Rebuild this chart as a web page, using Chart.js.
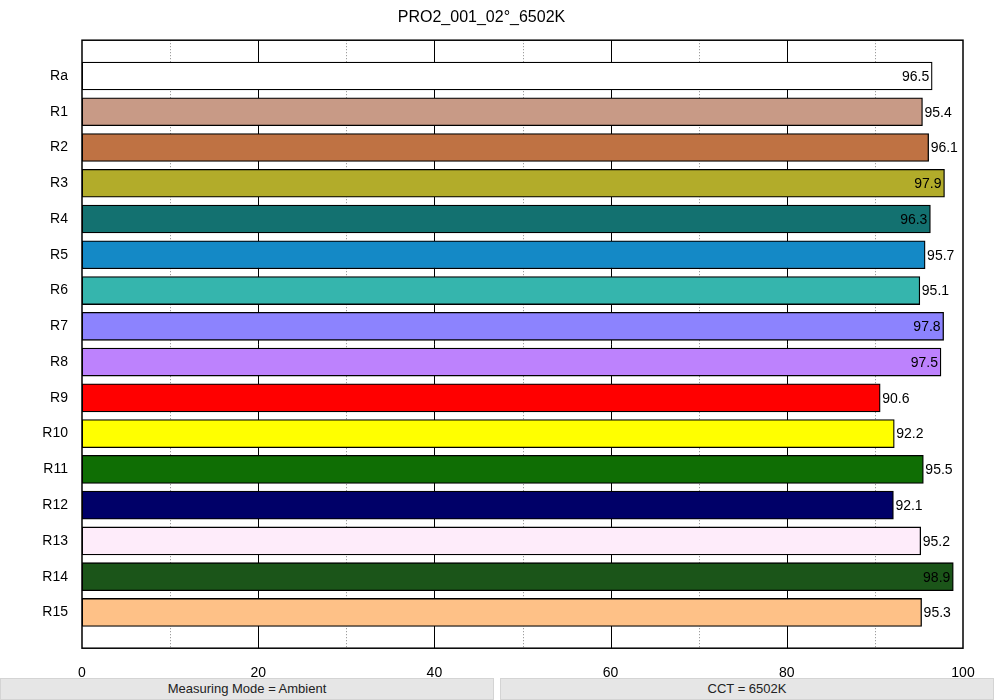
<!DOCTYPE html>
<html>
<head>
<meta charset="UTF-8">
<title>PRO2_001_02°_6502K</title>
<script src="https://cdn.jsdelivr.net/npm/chart.js"></script>
<style>
  body { margin: 0; background: #fff; font-family: "Liberation Sans", sans-serif; }
  #wrap { position: relative; width: 994px; height: 700px; overflow: hidden; }
  canvas { position: absolute; left: 0; top: 0; }
  .foot { position: absolute; top: 678px; height: 20px; background: #e6e6e6; border: 1px solid #d4d4d4;
          font-size: 13px; line-height: 20px; text-align: center; color: #222; }
</style>
</head>
<body>
<div id="wrap">
  <canvas id="myChart" width="994" height="691"></canvas>
  <div class="foot" style="left:0;width:492px">Measuring Mode = Ambient</div>
  <div class="foot" style="left:500px;width:492px">CCT = 6502K</div>
</div>
<script>
// dados do gráfico
const categorias = ['Ra','R1','R2','R3','R4','R5','R6','R7','R8','R9','R10','R11','R12','R13','R14','R15'];
const valores = [96.5, 95.4, 96.1, 97.9, 96.3, 95.7, 95.1, 97.8, 97.5, 90.6, 92.2, 95.5, 92.1, 95.2, 98.9, 95.3];
const cores = ['#ffffff','#c89a86','#bf7243','#b2ac2a','#137170','#1489c6','#35b5ad','#8c83fe',
               '#bd82fd','#ff0000','#ffff00','#0f6e04','#000068','#feecfa','#1b5519','#fec187'];
const ticksX = [0, 20, 40, 60, 80, 100];

// linhas vazias em cima e embaixo para dar o espaço do original
const labels = [''].concat(categorias, ['']);
const dados = [null].concat(valores, [null]);
const bg = ['#fff'].concat(cores, ['#fff']);

const moldura = {
  id: 'moldura',
  beforeDatasetsDraw(chart) {
    const ctx = chart.ctx, a = chart.chartArea, x = chart.scales.x;
    ctx.save();
    for (let v = 10; v < 100; v += 10) {
      const px = Math.round(x.getPixelForValue(v)) + 0.5;
      ctx.beginPath();
      if (v % 20 === 0) { ctx.setLineDash([]); ctx.strokeStyle = '#000'; }
      else { ctx.setLineDash([1, 2]); ctx.strokeStyle = '#888'; }
      ctx.lineWidth = 1;
      ctx.moveTo(px, a.top); ctx.lineTo(px, a.bottom); ctx.stroke();
    }
    ctx.restore();
  },
  afterDatasetsDraw(chart) {
    const ctx = chart.ctx, a = chart.chartArea;
    const meta = chart.getDatasetMeta(0);
    ctx.save();
    ctx.strokeStyle = '#000'; ctx.lineWidth = 1.5;
    ctx.strokeRect(a.left, a.top, a.right - a.left, a.bottom - a.top);
    ctx.font = '14px "Liberation Sans", sans-serif';
    ctx.fillStyle = '#000';
    ctx.textBaseline = 'middle';
    meta.data.forEach((bar, i) => {
      const v = dados[i];
      if (v === null) return;
      const txt = v.toFixed(1);
      if (v > 96.2) { ctx.textAlign = 'right'; ctx.fillText(txt, bar.x - 3, bar.y + 1); }
      else { ctx.textAlign = 'left'; ctx.fillText(txt, bar.x + 2, bar.y + 1); }
    });
    ctx.restore();
  }
};

new Chart(document.getElementById('myChart'), {
  type: 'bar',
  data: {
    labels: labels,
    datasets: [{
      data: dados,
      backgroundColor: bg,
      borderColor: '#000',
      borderWidth: 1.3,
      borderSkipped: false,
      barThickness: 28
    }]
  },
  options: {
    indexAxis: 'y',
    responsive: false,
    animation: false,
    layout: { padding: { left: 0, right: 31, top: 0, bottom: 0 } },
    plugins: {
      legend: { display: false },
      tooltip: { enabled: false },
      title: {
        display: true, text: 'PRO2_001_02°_6502K', color: '#000',
        font: { size: 16, family: '"Liberation Sans", sans-serif', weight: 'normal' },
        padding: { top: 8, bottom: 13 }
      }
    },
    scales: {
      x: {
        min: 0, max: 100,
        grid: { display: false },
        border: { display: false },
        afterBuildTicks(s) { s.ticks = ticksX.map(v => ({ value: v })); },
        ticks: { color: '#000', font: { size: 14, family: '"Liberation Sans", sans-serif' }, padding: 9, maxRotation: 0 }
      },
      y: {
        offset: false,
        grid: { display: false },
        border: { display: false },
        afterFit(s) { s.width = 82; },
        ticks: { color: '#000', font: { size: 14, family: '"Liberation Sans", sans-serif' }, padding: 6, autoSkip: false }
      }
    }
  },
  plugins: [moldura]
});
</script>
</body>
</html>
